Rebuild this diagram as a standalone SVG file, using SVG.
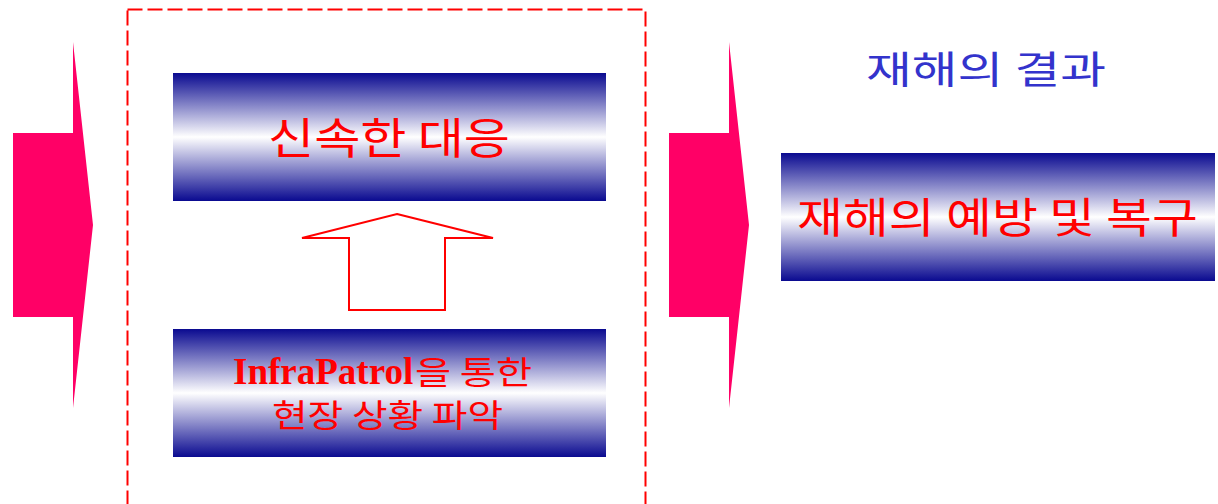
<svg xmlns="http://www.w3.org/2000/svg" width="1218" height="504" viewBox="0 0 1218 504">
<style>
.box{fill:url(#g)}
.kt{font-family:"Noto Sans CJK KR","Liberation Sans",sans-serif;fill:#ff0000}
.big{fill:#ff0066}
</style>
<defs>
<linearGradient id="g" x1="0" y1="0" x2="0" y2="1">
<stop offset="0" stop-color="#0a0a90"/>
<stop offset="0.5" stop-color="#ffffff"/>
<stop offset="1" stop-color="#0a0a90"/>
</linearGradient>
</defs>
<rect x="127.5" y="9.5" width="518" height="510" fill="none" stroke="#ff0000" stroke-width="2" stroke-dasharray="15,5"/>
<g id="arrow-left"><polygon class="big" points="13,133 73,133 73,42 93,225 73,408 73,317 13,317"/></g>
<g id="arrow-right"><polygon class="big" points="669,133 729,133 729,42 749,225 729,408 729,317 669,317"/></g>
<g id="node-response">
<rect class="box" x="173" y="73" width="433" height="128"/>
<text class="kt" x="268" y="154" font-size="43" textLength="242" lengthAdjust="spacingAndGlyphs">신속한 대응</text>
</g>
<g id="node-infrapatrol">
<rect class="box" x="173" y="329" width="433" height="128"/>
<text x="233" y="384" font-size="37" font-family="Liberation Serif,serif" font-weight="bold" fill="#ff0000">InfraPatrol</text>
<text class="kt" x="415" y="384" font-size="32" textLength="117" lengthAdjust="spacingAndGlyphs">을 통한</text>
<text class="kt" x="272" y="427" font-size="32" textLength="231" lengthAdjust="spacingAndGlyphs">현장 상황 파악</text>
</g>
<g id="node-prevention">
<rect class="box" x="781" y="153" width="434" height="128"/>
<text class="kt" x="797" y="233" font-size="42" textLength="401" lengthAdjust="spacingAndGlyphs">재해의 예방 및 복구</text>
</g>
<g id="label-result">
<text x="866" y="83" font-size="38" font-family="Noto Sans CJK KR,sans-serif" fill="#3333cc" textLength="240" lengthAdjust="spacingAndGlyphs">재해의 결과</text>
</g>
<g id="connectors">
<polygon points="397,214 493,238 445,238 445,310 349,310 349,238 302,238" fill="#ffffff" stroke="#ff0000" stroke-width="2"/>
</g>
</svg>
